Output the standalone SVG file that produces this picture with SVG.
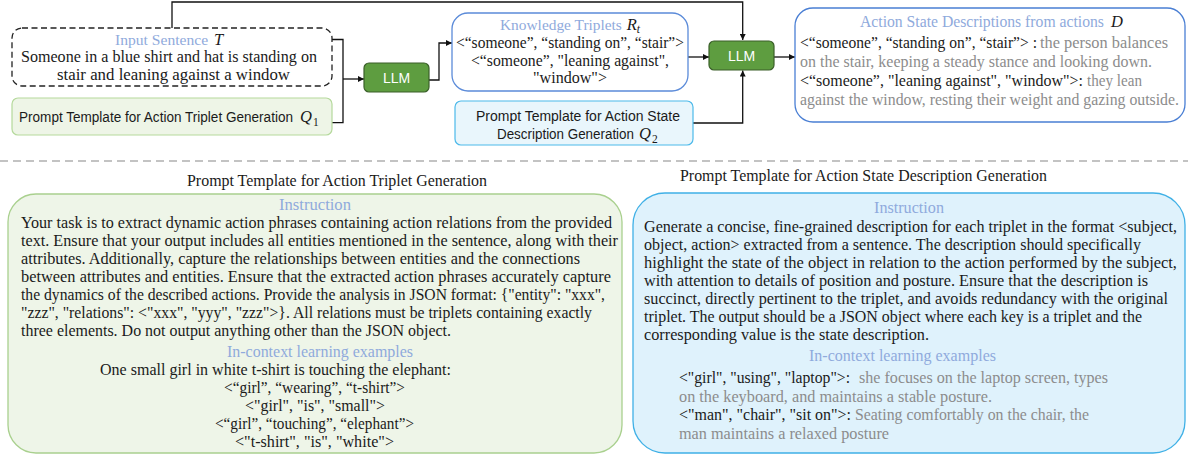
<svg xmlns="http://www.w3.org/2000/svg" width="1188" height="457" viewBox="0 0 1188 457">
<defs>
<style>
.s{font-family:"Liberation Serif",serif;font-size:16.5px;fill:#1a1a1a}
.g{fill:#8c8c8c}
.b{fill:#8faadc}
.i{font-style:italic;fill:#1a1a1a}
.sub{font-family:"Liberation Serif",serif;font-size:11.5px;fill:#1a1a1a}
.sans{font-family:"Liberation Sans",Arial,sans-serif;font-size:14px;fill:#1a1a1a}
.llm{font-family:"Liberation Sans",Arial,sans-serif;font-size:14px;fill:#ffffff;text-anchor:middle}
.llmbox{fill:#5e9d40;stroke:#3a5f29;stroke-width:1.2}
.conn{fill:none;stroke:#111;stroke-width:1.3}
</style>
<marker id="ah" viewBox="0 0 10 10" refX="10" refY="5" markerUnits="userSpaceOnUse" markerWidth="7" markerHeight="6" orient="auto">
<path d="M0,0 L10,5 L0,10 z" fill="#111"/>
</marker>
</defs>
<rect width="1188" height="457" fill="#ffffff"/>

<g id="connectors">
<path class="conn" d="M172,28 V2 H742.7 V40" marker-end="url(#ah)"/>
<path class="conn" d="M332,39.5 H343 V122.7 H332"/>
<path class="conn" d="M343,79 H364" marker-end="url(#ah)"/>
<path class="conn" d="M429,80 H439 V43 H452" marker-end="url(#ah)"/>
<path class="conn" d="M688,57 H709" marker-end="url(#ah)"/>
<path class="conn" d="M693,123 H742.7 V70.5" marker-end="url(#ah)"/>
<path class="conn" d="M774,57 H795" marker-end="url(#ah)"/>
</g>

<g id="input-sentence">
<rect x="12" y="28" width="320" height="58" rx="10" fill="#ffffff" stroke="#222" stroke-width="1.3" stroke-dasharray="6 3.5"/>
<text class="s b" x="115" y="45" style="font-size:15.6px">Input Sentence <tspan class="i" dx="2" style="font-size:16.5px">T</tspan></text>
<text class="s" x="21" y="62" textLength="296" lengthAdjust="spacingAndGlyphs">Someone in a blue shirt and hat is standing on</text>
<text class="s" x="57" y="80" textLength="233" lengthAdjust="spacingAndGlyphs">stair and leaning against a window</text>
</g>

<g id="prompt-q1">
<rect x="12" y="98" width="320" height="37" rx="6" fill="#eef5e7" stroke="#b5d99c" stroke-width="1.2"/>
<text class="sans" x="19" y="122" textLength="274" lengthAdjust="spacingAndGlyphs">Prompt Template for Action Triplet Generation</text>
<text class="s i" x="300" y="122">Q</text>
<text class="sub" x="313" y="126">1</text>
</g>

<g id="llm1">
<rect class="llmbox" x="364" y="63" width="65" height="29" rx="5"/>
<text class="llm" x="396.5" y="82.5">LLM</text>
</g>

<g id="knowledge-triplets">
<rect x="452" y="13" width="236" height="78" rx="16" fill="#ffffff" stroke="#5b8bd9" stroke-width="1.3"/>
<text class="s b" x="500" y="30" style="font-size:15.4px">Knowledge Triplets <tspan class="i" dx="1" style="font-size:16.5px">R</tspan><tspan class="i" dy="3" style="font-size:11.5px">t</tspan></text>
<text class="s" x="456" y="48" textLength="228" lengthAdjust="spacingAndGlyphs">&lt;“someone”, “standing on”, “stair”&gt;</text>
<text class="s" x="471" y="66" textLength="198" lengthAdjust="spacingAndGlyphs">&lt;“someone”, "leaning against",</text>
<text class="s" x="533" y="83" textLength="74" lengthAdjust="spacingAndGlyphs">"window"&gt;</text>
</g>

<g id="prompt-q2">
<rect x="455" y="101" width="238" height="44" rx="6" fill="#e9f6fc" stroke="#4cb9ea" stroke-width="1.2"/>
<text class="sans" x="476" y="121" textLength="204" lengthAdjust="spacingAndGlyphs">Prompt Template for Action State</text>
<text class="sans" x="497" y="139" textLength="137" lengthAdjust="spacingAndGlyphs">Description Generation</text>
<text class="s i" x="639" y="139">Q</text>
<text class="sub" x="652" y="143">2</text>
</g>

<g id="llm2">
<rect class="llmbox" x="709" y="41" width="65" height="29" rx="5"/>
<text class="llm" x="741.5" y="60.5">LLM</text>
</g>

<g id="action-descriptions">
<rect x="795" y="8" width="390" height="114" rx="18" fill="#ffffff" stroke="#4a7fd4" stroke-width="1.3"/>
<text class="s b" x="860" y="27" style="font-size:15.7px">Action State Descriptions from actions <tspan class="i" dx="3" style="font-size:16.5px">D</tspan></text>
<text class="s" x="800" y="48" textLength="237" lengthAdjust="spacingAndGlyphs">&lt;“someone”, “standing on”, “stair”&gt; :</text>
<text class="s g" x="1040" y="48" textLength="128" lengthAdjust="spacingAndGlyphs">the person balances</text>
<text class="s g" x="800" y="67" textLength="352" lengthAdjust="spacingAndGlyphs">on the stair, keeping a steady stance and looking down.</text>
<text class="s" x="800" y="86" textLength="283" lengthAdjust="spacingAndGlyphs">&lt;“someone”, "leaning against", "window"&gt;:</text>
<text class="s g" x="1087" y="86" textLength="55" lengthAdjust="spacingAndGlyphs">they lean</text>
<text class="s g" x="800" y="105" textLength="379" lengthAdjust="spacingAndGlyphs" style="font-size:15.8px">against the window, resting their weight and gazing outside.</text>
</g>

<line x1="0" y1="161" x2="1188" y2="161" stroke="#b0b0b0" stroke-width="1.3" stroke-dasharray="8 5"/>

<g id="template-triplet">
<text class="s" x="187" y="186" textLength="300" lengthAdjust="spacingAndGlyphs">Prompt Template for Action Triplet Generation</text>
<rect x="8" y="194" width="614" height="259" rx="28" fill="#eef5e8" stroke="#a9d08e" stroke-width="1.3"/>
<text class="s b" x="279" y="210" textLength="72" lengthAdjust="spacingAndGlyphs">Instruction</text>
<text class="s" x="21" y="228" textLength="591" lengthAdjust="spacingAndGlyphs">Your task is to extract dynamic action phrases containing action relations from the provided</text>
<text class="s" x="21" y="246" textLength="597" lengthAdjust="spacingAndGlyphs">text. Ensure that your output includes all entities mentioned in the sentence, along with their</text>
<text class="s" x="21" y="264" textLength="559" lengthAdjust="spacingAndGlyphs">attributes. Additionally, capture the relationships between entities and the connections</text>
<text class="s" x="21" y="282" textLength="590" lengthAdjust="spacingAndGlyphs">between attributes and entities. Ensure that the extracted action phrases accurately capture</text>
<text class="s" x="21" y="300" textLength="584" lengthAdjust="spacingAndGlyphs">the dynamics of the described actions. Provide the analysis in JSON format: {"entity": "xxx",</text>
<text class="s" x="21" y="318" textLength="571" lengthAdjust="spacingAndGlyphs">"zzz", "relations": &lt;"xxx", "yyy", "zzz"&gt;}.  All relations must be triplets containing exactly</text>
<text class="s" x="21" y="336" textLength="430" lengthAdjust="spacingAndGlyphs">three elements. Do not output anything other than the JSON object.</text>
<text class="s b" x="227" y="357" textLength="186" lengthAdjust="spacingAndGlyphs">In-context learning examples</text>
<text class="s" x="100" y="375" textLength="351" lengthAdjust="spacingAndGlyphs">One small girl in white t-shirt is touching the elephant:</text>
<text class="s" x="224" y="393" textLength="181" lengthAdjust="spacingAndGlyphs">&lt;“girl”, “wearing”, “t-shirt”&gt;</text>
<text class="s" x="245" y="411" textLength="140" lengthAdjust="spacingAndGlyphs">&lt;"girl", "is", "small"&gt;</text>
<text class="s" x="215" y="429" textLength="199" lengthAdjust="spacingAndGlyphs">&lt;“girl”, “touching”, “elephant”&gt;</text>
<text class="s" x="235" y="447" textLength="159" lengthAdjust="spacingAndGlyphs">&lt;"t-shirt", "is", "white"&gt;</text>
</g>

<g id="template-description">
<text class="s" x="680" y="181" textLength="367" lengthAdjust="spacingAndGlyphs">Prompt Template for Action State Description Generation</text>
<rect x="633" y="193" width="552" height="260" rx="32" fill="#dff2fc" stroke="#3fb0e6" stroke-width="1.3"/>
<text class="s b" x="874" y="213" textLength="70" lengthAdjust="spacingAndGlyphs">Instruction</text>
<text class="s" x="644" y="232" textLength="533" lengthAdjust="spacingAndGlyphs">Generate a concise, fine-grained description for each triplet in the format &lt;subject,</text>
<text class="s" x="644" y="250" textLength="497" lengthAdjust="spacingAndGlyphs">object, action&gt; extracted from a sentence. The description should specifically</text>
<text class="s" x="644" y="268" textLength="533" lengthAdjust="spacingAndGlyphs">highlight the state of the object in relation to the action performed by the subject,</text>
<text class="s" x="644" y="286" textLength="504" lengthAdjust="spacingAndGlyphs">with attention to details of position and posture. Ensure that the description is</text>
<text class="s" x="644" y="304" textLength="524" lengthAdjust="spacingAndGlyphs">succinct, directly pertinent to the triplet, and avoids redundancy with the original</text>
<text class="s" x="644" y="322" textLength="498" lengthAdjust="spacingAndGlyphs">triplet. The output should be a JSON object where each key is a triplet and the</text>
<text class="s" x="644" y="340" textLength="285" lengthAdjust="spacingAndGlyphs">corresponding value is the state description.</text>
<text class="s b" x="809" y="361" textLength="187" lengthAdjust="spacingAndGlyphs">In-context learning examples</text>
<text class="s" x="679" y="383" textLength="171" lengthAdjust="spacingAndGlyphs">&lt;"girl", "using", "laptop"&gt;:</text>
<text class="s g" x="859" y="383" textLength="249" lengthAdjust="spacingAndGlyphs">she focuses on the laptop screen, types</text>
<text class="s g" x="679" y="402" textLength="313" lengthAdjust="spacingAndGlyphs">on the keyboard, and maintains a stable posture.</text>
<text class="s" x="679" y="420" textLength="172" lengthAdjust="spacingAndGlyphs">&lt;"man", "chair", "sit on"&gt;:</text>
<text class="s g" x="855" y="420" textLength="234" lengthAdjust="spacingAndGlyphs">Seating comfortably on the chair, the</text>
<text class="s g" x="679" y="439" textLength="210" lengthAdjust="spacingAndGlyphs">man maintains a relaxed posture</text>
</g>
</svg>
